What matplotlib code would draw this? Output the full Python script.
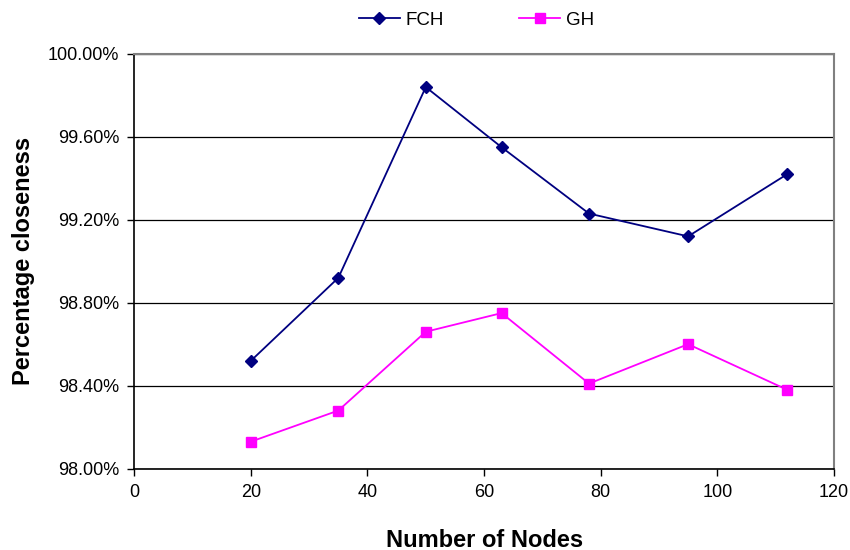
import matplotlib.pyplot as plt
from matplotlib.ticker import FuncFormatter

plt.rcParams['font.family'] = ['Liberation Sans', 'DejaVu Sans']

nodes = [20, 35, 50, 63, 78, 95, 112]
fch = [98.52, 98.92, 99.84, 99.55, 99.23, 99.12, 99.42]
gh = [98.13, 98.28, 98.66, 98.75, 98.41, 98.60, 98.38]

fig = plt.figure(figsize=(8.5, 5.5), dpi=100)
ax = fig.add_axes([0.158, 0.148, 0.823, 0.754])

ax.plot(nodes, fch, color='#000080', marker='D', markersize=6, linewidth=1.3, label='FCH')
ax.plot(nodes, gh, color='#FF00FF', marker='s', markersize=7, linewidth=1.3, label='GH')

ax.set_xlim(0, 120)
ax.set_ylim(98.0, 100.0)
ax.set_xticks(range(0, 121, 20))
ax.set_yticks([98.0, 98.4, 98.8, 99.2, 99.6, 100.0])
ax.yaxis.set_major_formatter(FuncFormatter(lambda v, p: '%.2f%%' % v))
ax.grid(axis='y', color='black', linewidth=0.9)
ax.set_axisbelow(True)

for s in ['top', 'right']:
    ax.spines[s].set_color('#808080')
    ax.spines[s].set_linewidth(1.5)
for s in ['left', 'bottom']:
    ax.spines[s].set_color('black')
    ax.spines[s].set_linewidth(1.2)
ax.tick_params(direction='out', length=5, width=1, labelsize=13, pad=6)

ax.set_xlabel('Number of Nodes', fontsize=17, fontweight='bold', labelpad=20)
ax.set_ylabel('Percentage closeness', fontsize=17, fontweight='bold', labelpad=9)

ax.legend(loc='lower center', bbox_to_anchor=(0.489, 1.02), ncol=2, frameon=False,
          fontsize=13.5, columnspacing=4, handlelength=2.2, handletextpad=0.3)

plt.savefig('out.png')
